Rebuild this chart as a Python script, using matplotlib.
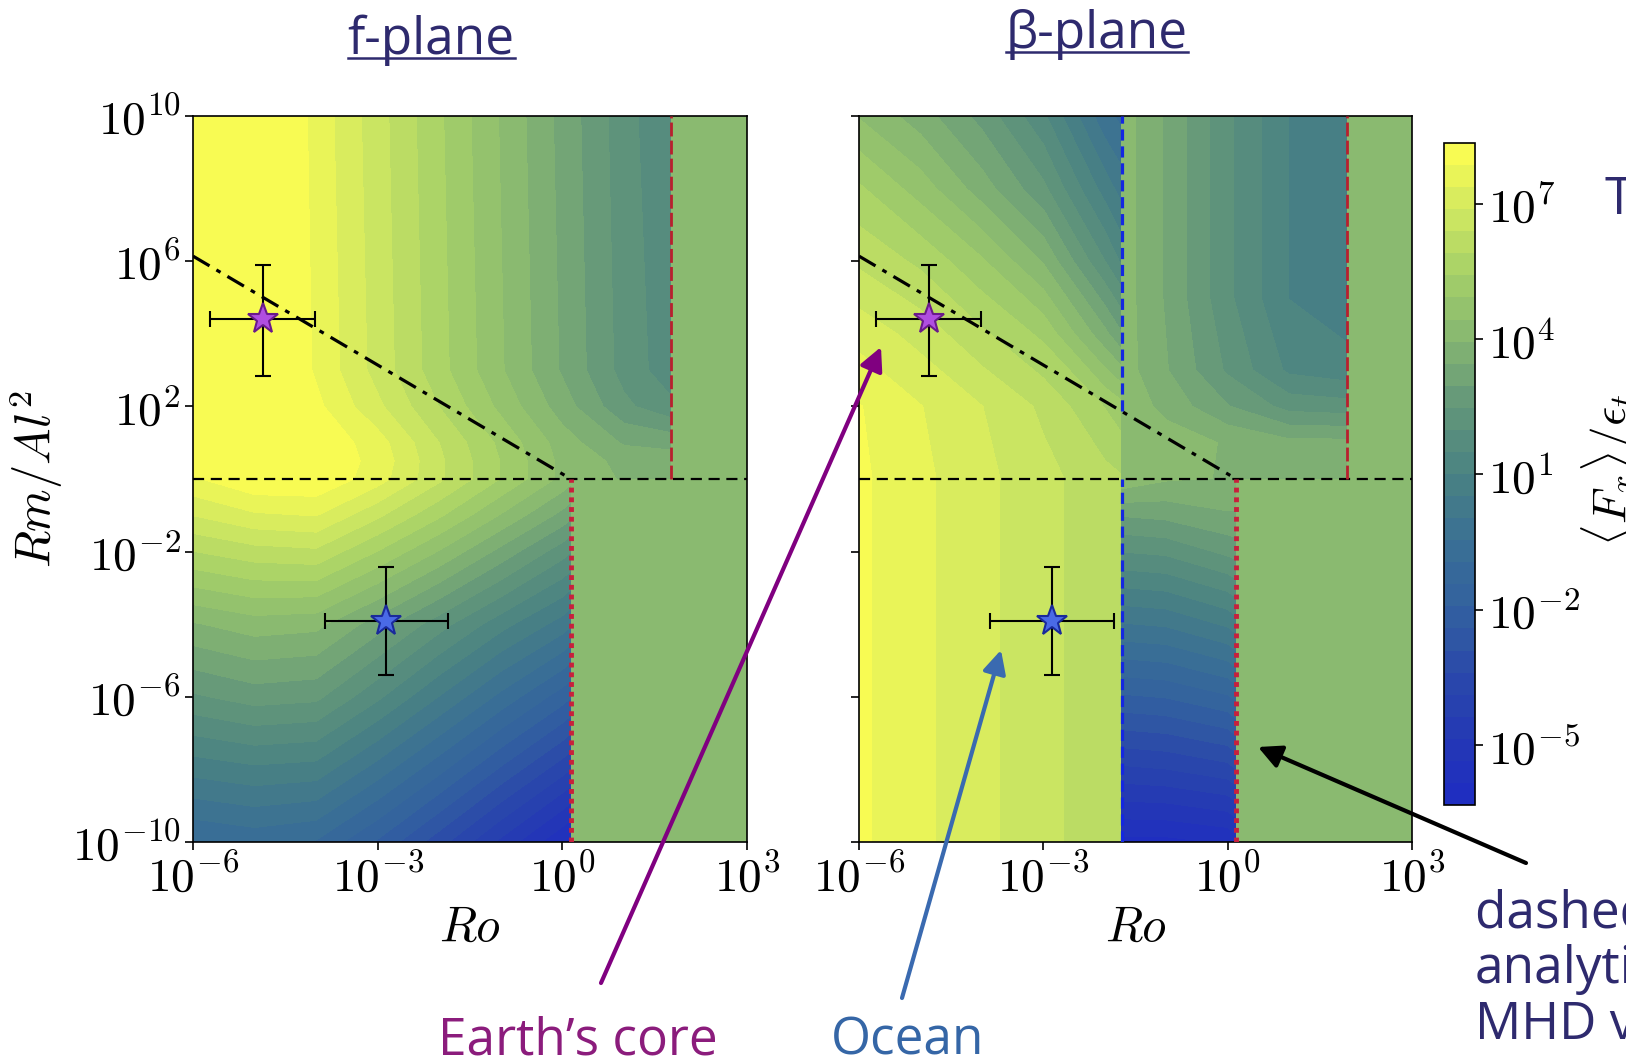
import numpy as np
import matplotlib
matplotlib.use("Agg")
import matplotlib.pyplot as plt
from matplotlib.colors import LinearSegmentedColormap, Normalize
from matplotlib.lines import Line2D
from matplotlib.patches import FancyArrowPatch

plt.rcParams['mathtext.fontset'] = 'cm'
plt.rcParams['font.family'] = ['Open Sans', 'DejaVu Sans']

W, H = 1626, 1064

# --- colour field: log10(<Fx>/eps_t), one grid per region ---
# axes are log10(Ro) (x) and log10(Rm/Al^2) (y)

# f-plane, Rm/Al^2 > 1, left of red dashed line
f_top_ro = [-6, -5, -4.5, -4, -3, -2, -1, 0, 1, 1.77]
f_top_rm = [0, 0.5, 1, 2, 3, 10]
f_top_val = [
    [7.8, 8.3, 8.3, 8.3, 7.6, 6.5, 5.4, 4.3, 3.9, 3.8],
    [8.3, 8.3, 8.3, 8.3, 7.7, 6.5, 5.4, 4.3, 3.8, 3.7],
    [8.3, 8.3, 8.3, 8.3, 7.6, 6.4, 5.3, 4.2, 3.4, 3.3],
    [8.3, 8.3, 8.3, 8.0, 7.0, 5.9, 4.8, 3.7, 2.6, 2.1],
    [8.3, 8.3, 8.3, 7.8, 6.7, 5.6, 4.5, 3.4, 2.3, 1.7],
    [8.3, 8.3, 8.3, 7.7, 6.6, 5.5, 4.4, 3.3, 2.2, 1.5],
]

# f-plane, Rm/Al^2 < 1, left of red dotted line
f_bot_ro = [-6, -5, -4, -3, -2, -1, 0, 0.14]
f_bot_rm = [-10, -8, -6, -4, -2, -1, 0]
f_bot_val = [
    [-1.0, -0.8, -1.0, -2.0, -3.2, -4.5, -5.8, -6.0],
    [0.7, 0.9, 0.8, -0.2, -1.3, -2.5, -3.7, -3.9],
    [2.4, 2.7, 2.6, 1.6, 0.5, -0.6, -1.7, -1.9],
    [3.9, 4.2, 4.1, 3.2, 2.2, 1.2, 0.3, 0.1],
    [5.9, 6.2, 6.3, 5.4, 4.4, 3.3, 2.2, 2.0],
    [6.9, 7.3, 7.4, 6.5, 5.5, 4.4, 3.3, 3.1],
    [7.8, 8.3, 8.3, 7.6, 6.5, 5.4, 4.3, 4.1],
]

# beta-plane, Rm/Al^2 > 1, left of blue dashed line
b_tl_ro = [-6, -5, -4, -3, -2, -1.72]
b_tl_rm = [0, 2, 4, 6, 8, 10]
b_tl_val = [
    [7.97, 7.50, 7.03, 6.56, 6.09, 5.96],
    [7.9, 7.4, 6.9, 6.3, 5.4, 5.1],
    [7.2, 6.7, 6.0, 5.3, 3.6, 3.0],
    [6.3, 5.8, 5.0, 3.9, 2.0, 1.4],
    [5.5, 4.7, 3.7, 2.6, 0.8, 0.3],
    [4.4, 3.7, 2.8, 1.6, -0.3, -0.6],
]

# beta-plane, Rm/Al^2 < 1, left of blue dashed line
b_bl_ro = [-6, -5, -4, -3, -2, -1.72]
b_bl_rm = [-10, 0]
b_bl_val = [
    [7.97, 7.50, 7.03, 6.56, 6.09, 5.96],
    [7.97, 7.50, 7.03, 6.56, 6.09, 5.96],
]

# beta-plane, Rm/Al^2 > 1, between blue and red dashed lines
b_tm_ro = [-1.72, -1, 0, 1, 1.94]
b_tm_rm = [0, 1, 2, 3, 5, 10]
b_tm_val = [
    [4.3, 4.1, 3.9, 3.8, 3.8],
    [4.4, 4.2, 3.9, 3.6, 3.6],
    [4.3, 3.8, 3.0, 2.3, 2.2],
    [4.2, 3.5, 2.4, 1.4, 1.2],
    [4.2, 3.4, 2.1, 1.0, 0.7],
    [4.2, 3.4, 2.1, 1.0, 0.7],
]

# beta-plane, Rm/Al^2 < 1, between blue dashed and red dotted lines
b_bm_ro = [-1.72, -1, 0, 0.14]
b_bm_rm = [-10, -8, -6, -4, -2, -1, 0]
b_bm_val = [
    [-6.0, -6.0, -5.8, -5.6],
    [-4.0, -3.9, -3.6, -3.4],
    [-2.0, -1.9, -1.5, -1.3],
    [0.0, 0.1, 0.6, 0.8],
    [2.0, 2.1, 2.6, 2.7],
    [3.0, 3.1, 3.4, 3.4],
    [4.3, 4.0, 3.9, 3.8],
]

# flat value beyond the red lines
flat_val = 4.0
f_red_dash = 1.77
b_red_dash = 1.94
red_dot = 0.14
blue_dash = -1.72

# dash-dot line (log10 Ro, log10 Rm/Al^2)
dd_ro = [-6, 0.14]
dd_rm = [6.14, 0]

# stars with error bars (log10)
star_ro = [-4.86, -2.86]
star_ro_lo = [-5.72, -3.86]
star_ro_hi = [-4.01, -1.85]
star_rm = [4.4, -3.91]
star_rm_lo = [2.83, -5.39]
star_rm_hi = [5.9, -2.43]
star_face = ['#b04ee0', '#4a6ae6']
star_edge = ['#6a1a8a', '#1a2a9a']

# colour scale
vmin, vmax = -6.34, 8.36
cmap_vals = [-6.34, -5.0, -3.5, -2.0, -0.5, 1.0, 2.5, 4.2, 5.5, 7.0, 8.36]
cmap_cols = ['#1e2cc2', '#2437b6', '#2a48aa', '#3260a0', '#3a7094', '#4a8282',
             '#62967a', '#8aba70', '#a6d068', '#d4ea60', '#ffff50']
cbar_ticks = [-5, -2, 1, 4, 7]

cmap = LinearSegmentedColormap.from_list(
    'fx', [((v - vmin) / (vmax - vmin), c) for v, c in zip(cmap_vals, cmap_cols)])
norm = Normalize(vmin, vmax)
levels = np.linspace(vmin, vmax, 31)

navy = '#2e2a6e'
TS = 37  # slide text size

fig = plt.figure(figsize=(W / 100, H / 100), dpi=100)


def px(x0, y0, x1, y1):
    return [x0 / W, 1 - y1 / H, (x1 - x0) / W, (y1 - y0) / H]


ax1 = fig.add_axes(px(193, 116, 747, 842))
ax2 = fig.add_axes(px(859, 116, 1412, 842))
cax = fig.add_axes(px(1444, 143, 1475, 805))


def field(ax, ro, rm, val):
    ax.contourf(ro, rm, np.array(val), levels=levels, cmap=cmap, norm=norm)


def flat(ax, x0, x1, y0, y1):
    field(ax, [x0, x1], [y0, y1], [[flat_val, flat_val], [flat_val, flat_val]])


field(ax1, f_top_ro, f_top_rm, f_top_val)
field(ax1, f_bot_ro, f_bot_rm, f_bot_val)
flat(ax1, red_dot, 3, -10, 0)
flat(ax1, f_red_dash, 3, 0, 10)

field(ax2, b_tl_ro, b_tl_rm, b_tl_val)
field(ax2, b_bl_ro, b_bl_rm, b_bl_val)
field(ax2, b_tm_ro, b_tm_rm, b_tm_val)
field(ax2, b_bm_ro, b_bm_rm, b_bm_val)
flat(ax2, red_dot, 3, -10, 0)
flat(ax2, b_red_dash, 3, 0, 10)

tex_ticks = lambda ts: [rf'$10^{{{t}}}$' for t in ts]

for ax, rdash in [(ax1, f_red_dash), (ax2, b_red_dash)]:
    ax.axhline(0, color='k', lw=1.6, ls=(0, (5, 3)), zorder=3)
    ax.plot(dd_ro, dd_rm, color='k', lw=2.3, ls=(0, (6, 2.5, 1.5, 2.5)), zorder=3)
    ax.plot([red_dot, red_dot], [-10, 0], color='#c8203c', lw=3.5, ls=(0, (1, 1)), zorder=3)
    ax.plot([rdash, rdash], [0, 10], color='#b8202e', lw=2, ls=(0, (5, 1.5)), zorder=3)
    for i in range(2):
        ax.errorbar(star_ro[i], star_rm[i],
                    xerr=[[star_ro[i] - star_ro_lo[i]], [star_ro_hi[i] - star_ro[i]]],
                    yerr=[[star_rm[i] - star_rm_lo[i]], [star_rm_hi[i] - star_rm[i]]],
                    fmt='none', ecolor='k', elinewidth=1.5, capsize=6, capthick=1.5, zorder=4)
        ax.plot(star_ro[i], star_rm[i], marker='*', ms=23, mfc=star_face[i],
                mec=star_edge[i], mew=1.5, zorder=5)
    ax.set_xlim(-6, 3)
    ax.set_ylim(-10, 10)
    ax.set_xticks([-6, -3, 0, 3])
    ax.set_xticklabels(tex_ticks([-6, -3, 0, 3]))
    ax.set_yticks([-10, -6, -2, 2, 6, 10])
    ax.tick_params(labelsize=34, length=6, width=1.2, direction='out', pad=3)
    for s in ax.spines.values():
        s.set_linewidth(1.2)
    ax.text(0.5, -0.118, r'$Ro$', transform=ax.transAxes, ha='center', va='center', fontsize=35)

ax1.set_yticklabels(tex_ticks([-10, -6, -2, 2, 6, 10]))
ax2.set_yticklabels([])

ax2.plot([blue_dash, blue_dash], [-10, 0], color='#1428e0', lw=2.3, ls=(0, (3.5, 1.8)), zorder=3)
ax2.plot([blue_dash, blue_dash], [dd_rm[0] + dd_ro[0] - blue_dash, 10], color='#1428e0',
         lw=2.3, ls=(0, (3.5, 1.8)), zorder=3)

fig.text(36 / W, 1 - 479 / H, r'$Rm/Al^2$', rotation=90, ha='center', va='center', fontsize=35)

sm = plt.cm.ScalarMappable(norm=norm, cmap=cmap)
cb = fig.colorbar(sm, cax=cax, boundaries=levels, values=(levels[:-1] + levels[1:]) / 2,
                  ticks=cbar_ticks)
cb.ax.set_yticklabels(tex_ticks(cbar_ticks))
cb.ax.tick_params(labelsize=34, length=6, width=1.2, pad=3)
cb.outline.set_linewidth(1.2)
fig.text(1610 / W, 1 - 470 / H, r'$\langle F_x\rangle/\epsilon_t$', rotation=90,
         ha='center', va='center', fontsize=34)

# slide text
t1 = fig.text(431 / W, 1 - 40 / H, 'f-plane', ha='center', va='center', fontsize=TS, color=navy)
t2 = fig.text(1097 / W, 1 - 34 / H, 'β-plane', ha='center', va='center', fontsize=TS, color=navy)
fig.text(578 / W, 1 - 1041 / H, 'Earth’s core', ha='center', va='center', fontsize=TS, color='#8b1c7c')
fig.text(908 / W, 1 - 1041 / H, 'Ocean', ha='center', va='center', fontsize=TS, color='#3566a6')
for i, line in enumerate(['dashed lines', 'analytical', 'MHD values']):
    fig.text(1475 / W, 1 - (914 + 55.5 * i) / H, line, ha='left', va='center', fontsize=TS, color=navy)
fig.text(1604 / W, 1 - 200 / H, 'Theory', ha='left', va='center', fontsize=TS, color=navy)

fig.canvas.draw()
r = fig.canvas.get_renderer()
for t in (t1, t2):
    bb = t.get_window_extent(r)
    fig.add_artist(Line2D([bb.x0 / W, bb.x1 / W], [(bb.y0 + 8) / H, (bb.y0 + 8) / H],
                          transform=fig.transFigure, color=navy, lw=1.8))

# arrows (figure pixels, image y downwards)
arrows = [((601, 983), (881, 347), '#800080'),
          ((902, 998), (1001, 650), '#3a6ab0'),
          ((1526, 863), (1258, 747), 'black')]
for (x0, y0), (x1, y1), c in arrows:
    fig.add_artist(FancyArrowPatch((x0 / W, 1 - y0 / H), (x1 / W, 1 - y1 / H),
                                   transform=fig.transFigure, arrowstyle='-|>,head_length=14,head_width=7',
                                   color=c, lw=3, shrinkA=0, shrinkB=0))

fig.savefig('out.png', dpi=100)
